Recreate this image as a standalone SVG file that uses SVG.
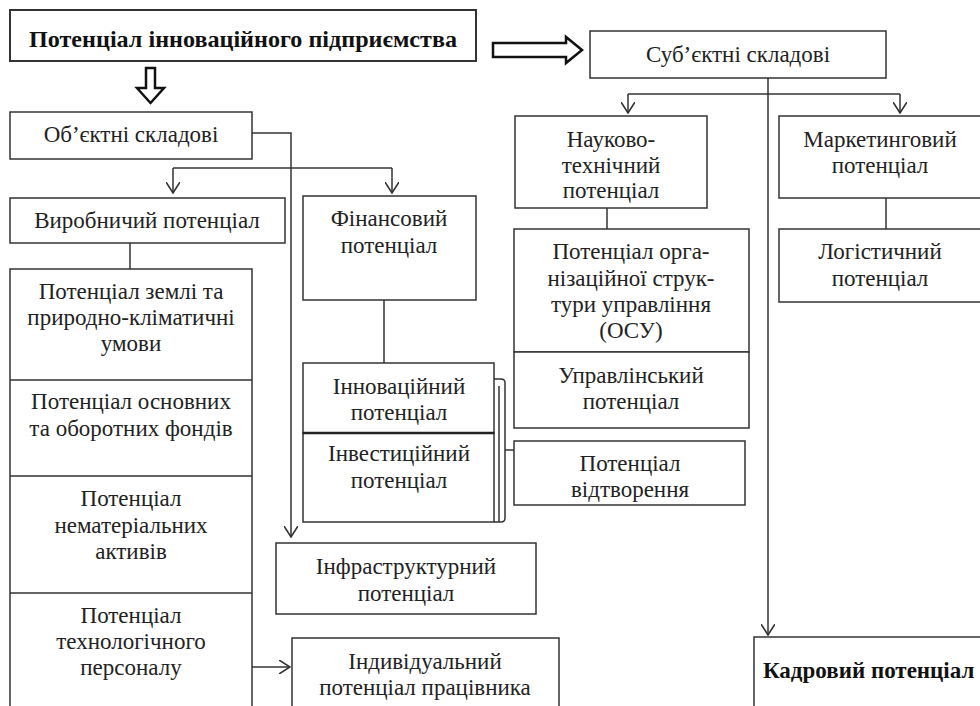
<svg xmlns="http://www.w3.org/2000/svg" width="980" height="706" viewBox="0 0 980 706">
<style>
.b{fill:#fff;stroke:#333;stroke-width:1.5}
.t{font-family:"Liberation Serif","Times New Roman",serif;font-size:23px;fill:#222;text-anchor:middle}
.bold{font-weight:bold;fill:#111}
.c{fill:none;stroke:#333;stroke-width:1.5}
.h{fill:#fff;stroke:#111;stroke-width:2.5;stroke-linejoin:miter}
</style>
<defs>
<marker id="arr" viewBox="0 0 12 14" refX="11" refY="7" markerWidth="12" markerHeight="14" orient="auto" markerUnits="userSpaceOnUse">
<path d="M0,0 L11,7 L0,14" fill="none" stroke="#333" stroke-width="1.6"/>
</marker>
</defs>
<rect width="980" height="706" fill="#fff"/>

<g id="connectors">
<polygon class="h" points="146,68 155,68 155,88 164,88 150.5,103 137,88 146,88"/>
<polygon class="h" points="493,43 566,43 566,37 582,50 566,63 566,57 493,57"/>
<path class="c" d="M252,133 H291 V537" marker-end="url(#arr)"/>
<path class="c" d="M173,168 H392"/>
<path class="c" d="M173,168 V193" marker-end="url(#arr)"/>
<path class="c" d="M392,168 V193" marker-end="url(#arr)"/>
<path class="c" d="M768,78 V635" marker-end="url(#arr)"/>
<path class="c" d="M628,94 H900"/>
<path class="c" d="M628,94 V113" marker-end="url(#arr)"/>
<path class="c" d="M900,94 V113" marker-end="url(#arr)"/>
<path class="c" d="M130,243 V269"/>
<path class="c" d="M384,300 V363"/>
<path class="c" d="M607,208 V229"/>
<path class="c" d="M886,198 V229"/>
<path class="c" d="M494,379 H501 Q505,379 505,383 V518 Q505,522 501,522 H494"/>
<path class="c" d="M499,386 V522"/>
<path class="c" d="M505,450 H514"/>
<path class="c" d="M252,667 H290" marker-end="url(#arr)"/>
</g>

<g id="n-main">
<rect class="b" x="10" y="10" width="466" height="51" style="stroke-width:2"/>
<text class="t bold" x="243" y="47" textLength="428" lengthAdjust="spacingAndGlyphs">Потенціал інноваційного підприємства</text>
</g>
<g id="n-subj">
<rect class="b" x="590" y="31" width="296" height="47"/>
<text class="t" x="738" y="62">Суб’єктні складові</text>
</g>
<g id="n-obj">
<rect class="b" x="10" y="112" width="242" height="47"/>
<text class="t" x="131" y="142">Об’єктні складові</text>
</g>
<g id="n-vyrob">
<rect class="b" x="10" y="198" width="275" height="45"/>
<text class="t" x="147" y="228">Виробничий потенціал</text>
</g>
<g id="n-column">
<rect class="b" x="10" y="269" width="242" height="450"/>
<path class="c" d="M10,380 H252 M10,476 H252 M10,593 H252"/>
</g>
<g id="n-zemli">
<text class="t" x="131" y="299">Потенціал землі та</text>
<text class="t" x="131" y="325">природно-кліматичні</text>
<text class="t" x="131" y="351">умови</text>
</g>
<g id="n-fondiv">
<text class="t" x="131" y="409">Потенціал основних</text>
<text class="t" x="131" y="436">та оборотних фондів</text>
</g>
<g id="n-nemat">
<text class="t" x="131" y="506">Потенціал</text>
<text class="t" x="131" y="533">нематеріальних</text>
<text class="t" x="131" y="559">активів</text>
</g>
<g id="n-tech">
<text class="t" x="131" y="623">Потенціал</text>
<text class="t" x="131" y="649">технологічного</text>
<text class="t" x="131" y="675">персоналу</text>
</g>
<g id="n-fin">
<rect class="b" x="303" y="196" width="173" height="104"/>
<text class="t" x="389" y="226">Фінансовий</text>
<text class="t" x="389" y="253">потенціал</text>
</g>
<g id="n-innov">
<rect class="b" x="303" y="363" width="191" height="70"/>
<text class="t" x="399" y="394">Інноваційний</text>
<text class="t" x="399" y="420">потенціал</text>
</g>
<g id="n-invest">
<rect class="b" x="303" y="433" width="191" height="89"/>
<path d="M303,433 H494" stroke="#222" stroke-width="2.5"/>
<text class="t" x="399" y="461">Інвестиційний</text>
<text class="t" x="399" y="488">потенціал</text>
</g>
<g id="n-infra">
<rect class="b" x="276" y="543" width="260" height="71"/>
<text class="t" x="406" y="574">Інфраструктурний</text>
<text class="t" x="406" y="601">потенціал</text>
</g>
<g id="n-indyv">
<rect class="b" x="292" y="638" width="267" height="80"/>
<text class="t" x="425" y="669">Індивідуальний</text>
<text class="t" x="425" y="695">потенціал працівника</text>
</g>
<g id="n-nauk">
<rect class="b" x="515" y="116" width="192" height="92"/>
<text class="t" x="611" y="147">Науково-</text>
<text class="t" x="611" y="173">технічний</text>
<text class="t" x="611" y="198">потенціал</text>
</g>
<g id="n-osu">
<rect class="b" x="514" y="229" width="235" height="123"/>
<text class="t" x="631" y="259">Потенціал орга-</text>
<text class="t" x="631" y="286">нізаційної струк-</text>
<text class="t" x="631" y="312">тури управління</text>
<text class="t" x="631" y="338">(ОСУ)</text>
</g>
<g id="n-uprav">
<rect class="b" x="514" y="352" width="235" height="76"/>
<text class="t" x="631" y="383">Управлінський</text>
<text class="t" x="631" y="409">потенціал</text>
</g>
<g id="n-vidtv">
<rect class="b" x="514" y="441" width="231" height="64"/>
<text class="t" x="630" y="471">Потенціал</text>
<text class="t" x="630" y="497">відтворення</text>
</g>
<g id="n-market">
<rect class="b" x="779" y="116" width="210" height="82"/>
<text class="t" x="880" y="147">Маркетинговий</text>
<text class="t" x="880" y="173">потенціал</text>
</g>
<g id="n-logist">
<rect class="b" x="779" y="229" width="210" height="73"/>
<text class="t" x="880" y="259">Логістичний</text>
<text class="t" x="880" y="286">потенціал</text>
</g>
<g id="n-kadr">
<rect class="b" x="754" y="637" width="240" height="90"/>
<text class="t bold" x="763" y="678" style="text-anchor:start">Кадровий потенціал</text>
</g>
</svg>
